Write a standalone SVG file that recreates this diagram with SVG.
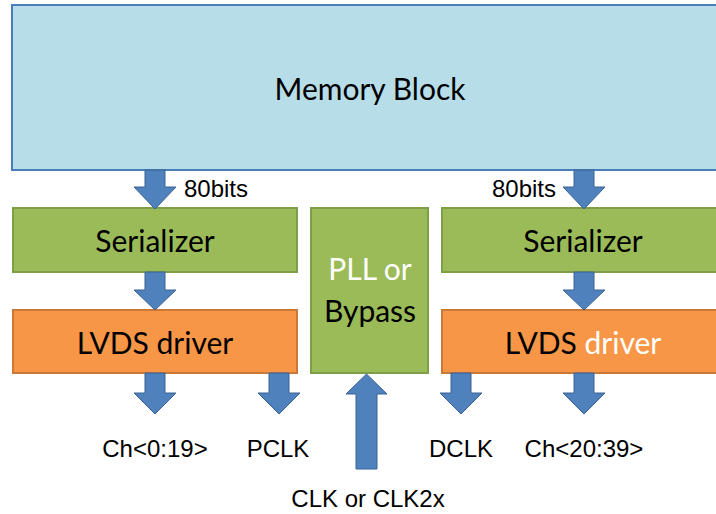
<svg xmlns="http://www.w3.org/2000/svg" width="716" height="514" viewBox="0 0 716 514">
<style>
.box{font-family:Lato,"Noto Sans","Liberation Sans",sans-serif;font-size:30px;text-anchor:middle;fill:#000}
.lbl{font-family:"Liberation Sans",Arial,sans-serif;font-size:24px;text-anchor:middle;fill:#000}
.w{fill:#fff}
.mem{fill:#B7DDE8;stroke:#4A7EBB;stroke-width:2}
.ser{fill:#9BBB59;stroke:#7F9E48;stroke-width:2}
.lvds{fill:#F79646;stroke:#C97838;stroke-width:2}
.arr{fill:#4F81BD;stroke:#3A6494;stroke-width:1}
</style>
<rect width="716" height="514" fill="#fff"/>
<g id="memory"><rect class="mem" x="12" y="5" width="716" height="165"/><text class="box" x="370" y="100">Memory Block</text></g>
<g id="ser-left"><rect class="ser" x="13" y="208" width="284" height="64"/><text class="box" x="155" y="252">Serializer</text></g>
<g id="lvds-left"><rect class="lvds" x="13" y="310" width="284" height="63"/><text class="box" x="155" y="354">LVDS driver</text></g>
<g id="pll"><rect class="ser" x="311" y="208" width="117" height="165"/><text class="box w" x="370" y="280">PLL or</text><text class="box" x="370" y="322">Bypass</text></g>
<g id="ser-right"><rect class="ser" x="442" y="208" width="290" height="64"/><text class="box" x="583" y="252">Serializer</text></g>
<g id="lvds-right"><rect class="lvds" x="442" y="310" width="290" height="63"/><text class="box" x="583" y="354">LVDS <tspan class="w">driver</tspan></text></g>
<g id="connectors">
<path class="arr" d="M145,170 H165 V187 H176 L155,209 L134,187 H145 Z"/>
<path class="arr" d="M574,170 H594 V187 H605 L584,209 L563,187 H574 Z"/>
<path class="arr" d="M145,272 H165 V290 H176 L155,310 L134,290 H145 Z"/>
<path class="arr" d="M574,272 H594 V290 H605 L584,310 L563,290 H574 Z"/>
<path class="arr" d="M145,373 H165 V393 H176 L155,414 L134,393 H145 Z"/>
<path class="arr" d="M269,373 H289 V393 H300 L279,414 L258,393 H269 Z"/>
<path class="arr" d="M451,373 H471 V393 H482 L461,414 L440,393 H451 Z"/>
<path class="arr" d="M574,373 H594 V393 H605 L584,414 L563,393 H574 Z"/>
<path class="arr" d="M356,469 H377 V394 H387 L366.5,374 L346,394 H356 Z"/>
</g>
<g id="labels">
<text class="lbl" x="216" y="197">80bits</text>
<text class="lbl" x="524" y="197">80bits</text>
<text class="lbl" x="155" y="457">Ch&lt;0:19&gt;</text>
<text class="lbl" x="278" y="457">PCLK</text>
<text class="lbl" x="461" y="457">DCLK</text>
<text class="lbl" x="584" y="457">Ch&lt;20:39&gt;</text>
<text class="lbl" x="368" y="507">CLK or CLK2x</text>
</g>
</svg>
